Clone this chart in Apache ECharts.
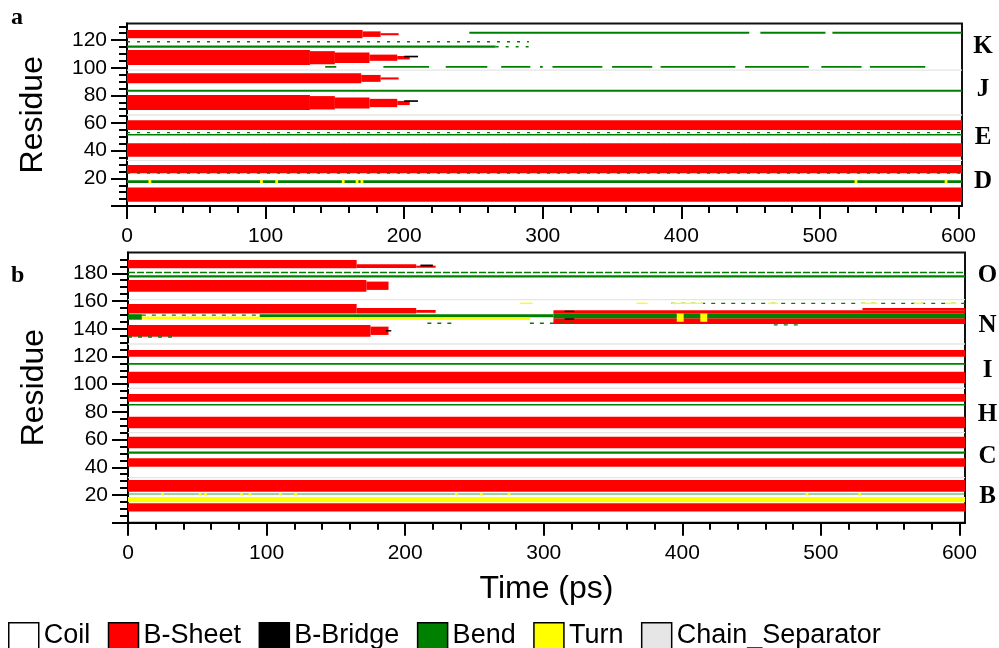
<!DOCTYPE html>
<html>
<head>
<meta charset="utf-8">
<script src="https://cdn.jsdelivr.net/npm/echarts@6/dist/echarts.min.js"></script>
<style>html,body{margin:0;padding:0;background:#fff}#chart{width:999px;height:648px}</style>
</head>
<body>
<div id="chart"></div>
<script>
// ---------------- data ----------------
const stateNames  = ['Coil', 'B-Sheet', 'B-Bridge', 'Bend', 'Turn', 'Chain_Separator'];
const stateColors = ['#ffffff', '#ff0000', '#000000', '#008000', '#ffff00', '#e6e6e6'];

const timeTicks = [0, 100, 200, 300, 400, 500, 600];
const resTicksA = [0, 20, 40, 60, 80, 100, 120];
const resLabelsA = [20, 40, 60, 80, 100, 120];
const resTicksB = [0, 20, 40, 60, 80, 100, 120, 140, 160, 180];
const resLabelsB = [20, 40, 60, 80, 100, 120, 140, 160, 180];

const timeEndA = 602.5, timeEndB = 604;   // last frame (ps)
const resTopA = 132, resTopB = 195;       // residue count incl. separators

const chainsA = ['D', 'E', 'J', 'K'];
const chainMidA = [17.6, 49.2, 83.9, 115.2];
const chainsB = ['B', 'C', 'H', 'I', 'N', 'O'];
const chainMidB = [18.6, 47.4, 77.7, 109.5, 142.6, 178.7];

// bands: [t start, t end, residue low, residue high]
const aSeparator = [[0, 602.5, 32.5, 33.5], [0, 602.5, 65.3, 66.3], [0, 602.5, 97.8, 98.8]];
const aSheet = [
  [0, 602.5, 3, 13.3], [0, 602.5, 23.6, 29.6],
  [0, 602.5, 35.6, 45.3], [0, 602.5, 55, 62],
  [0, 132, 69.4, 80.3], [132, 150, 69.8, 79.5], [150, 175, 70.5, 78.5], [175, 195, 71.5, 77.5], [195, 204, 73, 76],
  [0, 169, 88.7, 96], [169, 183, 89.8, 94.8], [183, 196, 91.5, 93],
  [0, 132, 102, 112.8], [132, 150, 102.5, 112], [150, 175, 103.5, 111], [175, 195, 105, 109.5], [195, 204, 106, 108.5],
  [0, 170, 121.3, 127.3], [170, 183, 122.3, 126.3], [183, 196, 123.5, 125]
];
const aBridge = [[200, 210, 75.3, 76.5], [200, 210, 107.5, 108.7]];
const aBend = [
  [0, 602.5, 16.7, 18.7], [0, 602.5, 51, 52.1], [0, 602.5, 82.7, 84],
  [0, 266, 114.4, 116],
  [247, 449, 124.5, 126], [457, 504, 124.5, 126], [509, 602.5, 124.5, 126],
  [143, 151, 100, 101.3], [185, 218, 100, 101.3], [230, 260, 100, 101.3], [270, 291, 100, 101.3],
  [298, 300, 100, 101.3], [307, 343, 100, 101.3], [350, 379, 100, 101.3], [385, 439, 100, 101.3],
  [446, 492, 100, 101.3], [501, 530, 100, 101.3], [536, 576, 100, 101.3]
];
const aTurn = [
  [15.5, 17.5, 16.5, 19], [96, 98, 16.5, 19], [107, 109, 16.5, 19], [155, 157, 16.5, 19],
  [165, 167, 16.5, 19], [168.5, 170.5, 16.5, 19], [525, 527, 16.5, 19], [590, 592, 16.5, 19]
];
// sparse bend rows: [t start, t end, residue]
const aBendSparse = [[0, 602.5, 23.8], [0, 602.5, 53.1], [0, 290, 118.8], [266, 290, 115.2]];

const bSeparator = [[0, 604, 32, 33], [0, 604, 64.5, 65.5], [0, 604, 96.5, 97.5], [0, 604, 128.5, 129.5], [0, 604, 160.5, 161.5]];
const bSheet = [
  [0, 604, 8, 14], [0, 604, 22.4, 30.8],
  [0, 604, 40.4, 46.5], [0, 604, 53.7, 62.1],
  [0, 604, 68.1, 76.5], [0, 604, 87.3, 92.9],
  [0, 604, 100.6, 109], [0, 604, 119.8, 124.6],
  [0, 175, 134.2, 142.7], [175, 188, 135.5, 141.5],
  [0, 165, 151, 157.8], [165, 208, 151, 155], [208, 222, 151.5, 153.5],
  [307, 604, 151.1, 153.4], [530, 604, 153.4, 155], [307, 604, 143.4, 147.5],
  [0, 172, 166.7, 175.2], [172, 188, 168, 174],
  [0, 165, 183.6, 189.6], [165, 208, 183.8, 186.5], [208, 222, 184, 185.5]
];
const bBridge = [[211, 220, 185, 186.3], [186, 190, 138, 139], [315, 322, 146.5, 147.5], [315, 322, 152, 153]];
const bBend = [
  [0, 604, 49.8, 51.3], [0, 604, 84.5, 85.7], [0, 604, 114, 115.2],
  [0, 10, 146.5, 150.5], [95, 307, 148.3, 150.5], [307, 604, 147.5, 151.1],
  [0, 604, 177, 178.5]
];
const bBendFaint = [[0, 604, 20.1, 21.3]];
const bTurn = [
  [0, 604, 14.8, 18.5],
  [10, 95, 147, 148.8], [95, 290, 146.3, 148.3],
  [396, 401, 145, 151], [413, 418, 145, 151],
  [283, 292, 157.8, 158.8], [367, 375, 157.8, 158.8], [392, 415, 157.8, 158.8], [462, 469, 157.8, 158.8],
  [529, 541, 157.8, 158.8], [567, 574, 157.8, 158.8], [590, 598, 157.8, 158.8],
  [24, 26, 20, 21.5], [51, 53, 20, 21.5], [55, 57, 20, 21.5], [81, 83, 20, 21.5], [87, 89, 20, 21.5],
  [109, 111, 20, 21.5], [120, 122, 20, 21.5], [236, 238, 20, 21.5], [254, 256, 20, 21.5],
  [274, 276, 20, 21.5], [489, 491, 20, 21.5], [527, 529, 20, 21.5]
];
const bBendSparse = [[0, 33, 134], [10, 95, 149.8], [216, 235, 143.9], [290, 321, 143.9], [392, 604, 158.3], [466, 486, 142.8]];
const bBendDense = [[0, 604, 180.6]];

// ---------------- chart ----------------
const FONT = '"Liberation Sans", Arial, sans-serif';
const SERIF = '"Liberation Serif", "Times New Roman", serif';
const colorOf = n => stateColors[stateNames.indexOf(n)];

function bandSeries(name, data, gi, opacity) {
  const color = colorOf(name);
  return {
    type: 'custom', name, xAxisIndex: gi, yAxisIndex: gi, silent: true,
    data, encode: { x: [0, 1], y: [2, 3] }, itemStyle: { color },
    renderItem(params, api) {
      const p0 = api.coord([api.value(0), api.value(2)]);
      const p1 = api.coord([api.value(1), api.value(3)]);
      const cs = params.coordSys;
      const shape = echarts.graphic.clipRectByRect(
        { x: p0[0], y: p1[1], width: p1[0] - p0[0], height: p0[1] - p1[1] },
        { x: cs.x, y: cs.y, width: cs.width, height: cs.height });
      return shape && { type: 'rect', shape, style: { fill: color, opacity: opacity == null ? 1 : opacity } };
    }
  };
}
function sparseSeries(name, data, gi, dash) {
  const color = colorOf(name);
  return {
    type: 'custom', name, xAxisIndex: gi, yAxisIndex: gi, silent: true,
    data, encode: { x: [0, 1], y: 2 }, itemStyle: { color },
    renderItem(params, api) {
      const p0 = api.coord([api.value(0), api.value(2)]);
      const p1 = api.coord([api.value(1), api.value(2)]);
      const h = api.size([0, 1])[1];
      return { type: 'line', shape: { x1: p0[0], y1: p0[1], x2: p1[0], y2: p1[1] },
               style: { stroke: color, lineWidth: h, lineDash: dash } };
    }
  };
}
function labelSeries(gi, names, mids, tEnd, dx) {
  return {
    type: 'custom', name: 'chains' + gi, xAxisIndex: gi, yAxisIndex: gi, silent: true, clip: false,
    data: mids.map(m => [tEnd, m]), encode: { x: 0, y: 1 },
    renderItem(params, api) {
      const p = api.coord([api.value(0), api.value(1)]);
      return { type: 'text', x: p[0] + dx, y: p[1],
               style: { text: names[params.dataIndex], font: 'bold 25px ' + SERIF, fill: '#000',
                        align: 'center', verticalAlign: 'middle' } };
    }
  };
}
function xAxis(gi, max, named) {
  const ax = {
    type: 'value', gridIndex: gi, min: 0, max, interval: 100,
    axisLine: { show: true, lineStyle: { color: '#000', width: 2 } },
    axisTick: { show: true, customValues: timeTicks, length: 13, lineStyle: { color: '#000', width: 2 } },
    minorTick: { show: true, splitNumber: 5, length: 7, lineStyle: { color: '#000', width: 2 } },
    axisLabel: { customValues: timeTicks, margin: 20, fontSize: 21, fontFamily: FONT, color: '#000' },
    splitLine: { show: false }, minorSplitLine: { show: false }
  };
  if (named) Object.assign(ax, { name: 'Time (ps)', nameLocation: 'middle', nameGap: 50,
    nameTextStyle: { fontSize: 32, fontFamily: FONT, color: '#000' } });
  return ax;
}
function yAxis(gi, max, ticks, labels) {
  return {
    type: 'value', gridIndex: gi, min: 0, max, interval: 20,
    name: 'Residue', nameLocation: 'middle', nameGap: 78,
    nameTextStyle: { fontSize: 32, fontFamily: FONT, color: '#000' },
    axisLine: { show: true, lineStyle: { color: '#000', width: 2 } },
    axisTick: { show: true, customValues: ticks, length: 16, lineStyle: { color: '#000', width: 2 } },
    minorTick: { show: true, splitNumber: 4, length: 8, lineStyle: { color: '#000', width: 2 } },
    axisLabel: { customValues: labels, margin: 20, fontSize: 21, fontFamily: FONT, color: '#000' },
    splitLine: { show: false }, minorSplitLine: { show: false }
  };
}

const chart = echarts.init(document.getElementById('chart'), null, { renderer: 'canvas', width: 999, height: 648 });
chart.setOption({
  animation: false,
  backgroundColor: '#fff',
  grid: [
    { left: 127, top: 23.5, width: 835, height: 182.5, show: true, borderColor: '#111', borderWidth: 2,
      backgroundColor: '#fff', containLabel: false, outerBoundsMode: 'none' },
    { left: 128, top: 252.5, width: 837, height: 270.2, show: true, borderColor: '#111', borderWidth: 2,
      backgroundColor: '#fff', containLabel: false, outerBoundsMode: 'none' }
  ],
  xAxis: [xAxis(0, timeEndA, false), xAxis(1, timeEndB, true)],
  yAxis: [yAxis(0, resTopA, resTicksA, resLabelsA), yAxis(1, resTopB, resTicksB, resLabelsB)],
  legend: {
    data: stateNames, left: 8, top: 622, padding: 0, icon: 'rect', itemWidth: 30, itemHeight: 26,
    itemGap: 17.5, selectedMode: false,
    textStyle: { fontSize: 27, fontFamily: FONT, color: '#000' },
    itemStyle: { borderColor: '#000', borderWidth: 1.5 }
  },
  graphic: [
    { type: 'text', left: 11, top: 6, style: { text: 'a', font: 'bold 24px ' + SERIF, fill: '#000' } },
    { type: 'text', left: 11, top: 264, style: { text: 'b', font: 'bold 24px ' + SERIF, fill: '#000' } }
  ],
  series: [
    { type: 'custom', name: 'Coil', xAxisIndex: 0, yAxisIndex: 0, data: [], itemStyle: { color: '#ffffff' }, renderItem: () => null },
    bandSeries('Chain_Separator', aSeparator, 0),
    bandSeries('B-Sheet', aSheet, 0),
    bandSeries('Bend', aBend, 0),
    sparseSeries('Bend', aBendSparse, 0, [3, 7]),
    bandSeries('Turn', aTurn, 0),
    bandSeries('B-Bridge', aBridge, 0),
    labelSeries(0, chainsA, chainMidA, timeEndA, 21),

    bandSeries('Chain_Separator', bSeparator, 1),
    bandSeries('B-Sheet', bSheet, 1),
    bandSeries('Bend', bBendFaint, 1, 0.5),
    bandSeries('Bend', bBend, 1),
    sparseSeries('Bend', bBendSparse, 1, [4, 6]),
    sparseSeries('Bend', bBendDense, 1, [7, 2]),
    bandSeries('Turn', bTurn, 1),
    bandSeries('B-Bridge', bBridge, 1),
    labelSeries(1, chainsB, chainMidB, timeEndB, 22.5)
  ]
});
</script>
</body>
</html>
